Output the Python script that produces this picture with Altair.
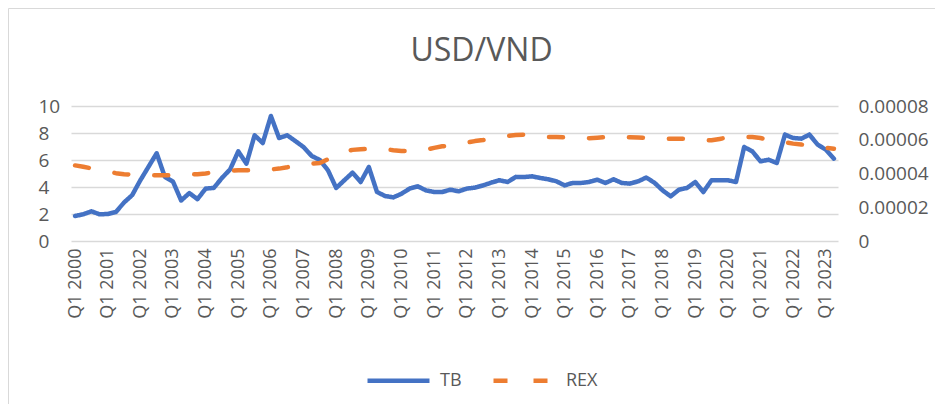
import altair as alt
import pandas as pd

# Quarterly categories Q1 2000 .. Q2 2023
quarters = [f"Q{q} {y}" for y in range(2000, 2024) for q in (1, 2, 3, 4)][:94]
x_labels = [f"Q1 {y}" for y in range(2000, 2024)]

tb = [1.85, 1.98, 2.2, 1.98, 2.0, 2.15, 2.85, 3.4, 4.5, 5.5,
      6.5, 4.75, 4.4, 3.0, 3.55, 3.1, 3.88, 3.93, 4.67, 5.3,
      6.64, 5.73, 7.83, 7.26, 9.26, 7.63, 7.83, 7.4, 6.96, 6.3,
      6.0, 5.23, 3.93, 4.5, 5.06, 4.37, 5.48, 3.63, 3.33, 3.23,
      3.5, 3.88, 4.05, 3.75, 3.63, 3.63, 3.8, 3.68, 3.88, 3.95,
      4.12, 4.32, 4.5, 4.37, 4.74, 4.74, 4.79, 4.67, 4.57, 4.42,
      4.12, 4.3, 4.3, 4.37, 4.54, 4.3, 4.57, 4.3, 4.25, 4.42,
      4.7, 4.32, 3.75, 3.31, 3.8, 3.93, 4.37, 3.63, 4.5, 4.5,
      4.5, 4.37, 6.96, 6.64, 5.9, 6.02, 5.78, 7.88, 7.63, 7.58,
      7.88, 7.14, 6.77, 6.1]

rex = [0.0000448, 0.0000440, 0.0000430, 0.0000420, 0.0000412, 0.0000402, 0.0000396, 0.0000393, 0.0000390, 0.0000389,
       0.0000389, 0.0000389, 0.0000390, 0.0000392, 0.0000394, 0.0000396, 0.0000400, 0.0000407, 0.0000412, 0.0000416,
       0.0000419, 0.0000419, 0.0000419, 0.0000420, 0.0000424, 0.0000429, 0.0000437, 0.0000448, 0.0000455, 0.0000458,
       0.0000462, 0.0000485, 0.0000512, 0.0000530, 0.0000540, 0.0000543, 0.0000546, 0.0000547, 0.0000544, 0.0000538,
       0.0000534, 0.0000533, 0.0000531, 0.0000540, 0.0000552, 0.0000561, 0.0000566, 0.0000575, 0.0000583, 0.0000592,
       0.0000598, 0.0000606, 0.0000616, 0.0000622, 0.0000628, 0.0000630, 0.0000625, 0.0000618, 0.0000616, 0.0000616,
       0.0000614, 0.0000610, 0.0000607, 0.0000609, 0.0000612, 0.0000616, 0.0000616, 0.0000616, 0.0000615, 0.0000613,
       0.0000612, 0.0000610, 0.0000607, 0.0000606, 0.0000606, 0.0000605, 0.0000602, 0.0000598, 0.0000597, 0.0000605,
       0.0000614, 0.0000616, 0.0000616, 0.0000616, 0.0000610, 0.0000600, 0.0000595, 0.0000585, 0.0000577, 0.0000572,
       0.0000563, 0.0000558, 0.0000552, 0.0000547]

series_names = ["TB", "REX"]
series_colors = ["#4472C4", "#ED7D31"]

df = pd.DataFrame({
    "quarter": quarters * 2,
    "series": ["TB"] * len(tb) + ["REX"] * len(rex),
    "value": tb + rex,
})

W, H = 767, 135
FONT = "Open Sans"
GRAY = "#595959"
GRID = "#d9d9d9"

color = alt.Color("series:N", sort=series_names,
                  scale=alt.Scale(domain=series_names, range=series_colors),
                  legend=alt.Legend(title=None))
dash = alt.StrokeDash("series:N", sort=series_names,
                      scale=alt.Scale(domain=series_names, range=[[1, 0], [14, 26]]),
                      legend=alt.Legend(title=None))

x_enc = alt.X("quarter:N", sort=quarters,
              scale=alt.Scale(type="point", padding=0.5),
              axis=alt.Axis(values=x_labels, labelAngle=270, title=None, ticks=False,
                            domain=False, grid=False, labelFontSize=18, labelPadding=7,
                            labelColor=GRAY, labelFont=FONT))

base = alt.Chart(df)

tb_line = base.transform_filter(alt.datum.series == "TB").mark_line(
    strokeWidth=4.5, strokeCap="round", strokeJoin="round"
).encode(
    x=x_enc,
    y=alt.Y("value:Q", scale=alt.Scale(domain=[0, 10]),
            axis=alt.Axis(orient="left", values=[0, 2, 4, 6, 8, 10], title=None, grid=True,
                          gridColor=GRID, gridWidth=1.5, domain=False, ticks=False,
                          labelAlign="left", labelPadding=33, labelFontSize=19,
                          labelColor=GRAY, labelFont=FONT)),
    color=color,
    strokeDash=dash,
)

rex_line = base.transform_filter(alt.datum.series == "REX").mark_line(
    strokeWidth=4.5, strokeCap="round", strokeJoin="round"
).encode(
    x=x_enc,
    y=alt.Y("value:Q", scale=alt.Scale(domain=[0, 0.00008]),
            axis=alt.Axis(orient="right", values=[0, 0.00002, 0.00004, 0.00006, 0.00008],
                          labelExpr="datum.value == 0 ? '0' : format(datum.value, '.5f')",
                          title=None, grid=False, domain=False, ticks=False,
                          labelPadding=20, labelFontSize=19, labelColor=GRAY, labelFont=FONT)),
    color=color,
    strokeDash=dash,
)

border = alt.Chart(pd.DataFrame({"a": [0]})).mark_rect(
    fill=None, stroke=GRID, strokeWidth=1
).encode(
    x=alt.value(-62.5), x2=alt.value(W + 200),
    y=alt.value(-97.5), y2=alt.value(H + 300),
)

chart = alt.layer(border, tb_line, rex_line).resolve_scale(
    y="independent"
).properties(
    width=W, height=H,
    title=alt.Title("USD/VND", fontSize=32, font=FONT, color=GRAY, fontWeight="normal",
                    anchor="middle", dx=27, offset=-60),
    autosize=alt.AutoSizeParams(type="none"),
    padding={"left": 63, "top": 98, "right": 97, "bottom": 163},
).configure_view(stroke=None).configure_legend(
    orient="none", legendX=294, legendY=241, direction="horizontal",
    symbolType="stroke", symbolSize=3844, symbolStrokeWidth=4.5,
    labelFontSize=18, labelFont=FONT, labelColor=GRAY, columnPadding=22, labelOffset=8,
)

chart.save("out.html", embed_options={"renderer": "svg", "actions": False})
